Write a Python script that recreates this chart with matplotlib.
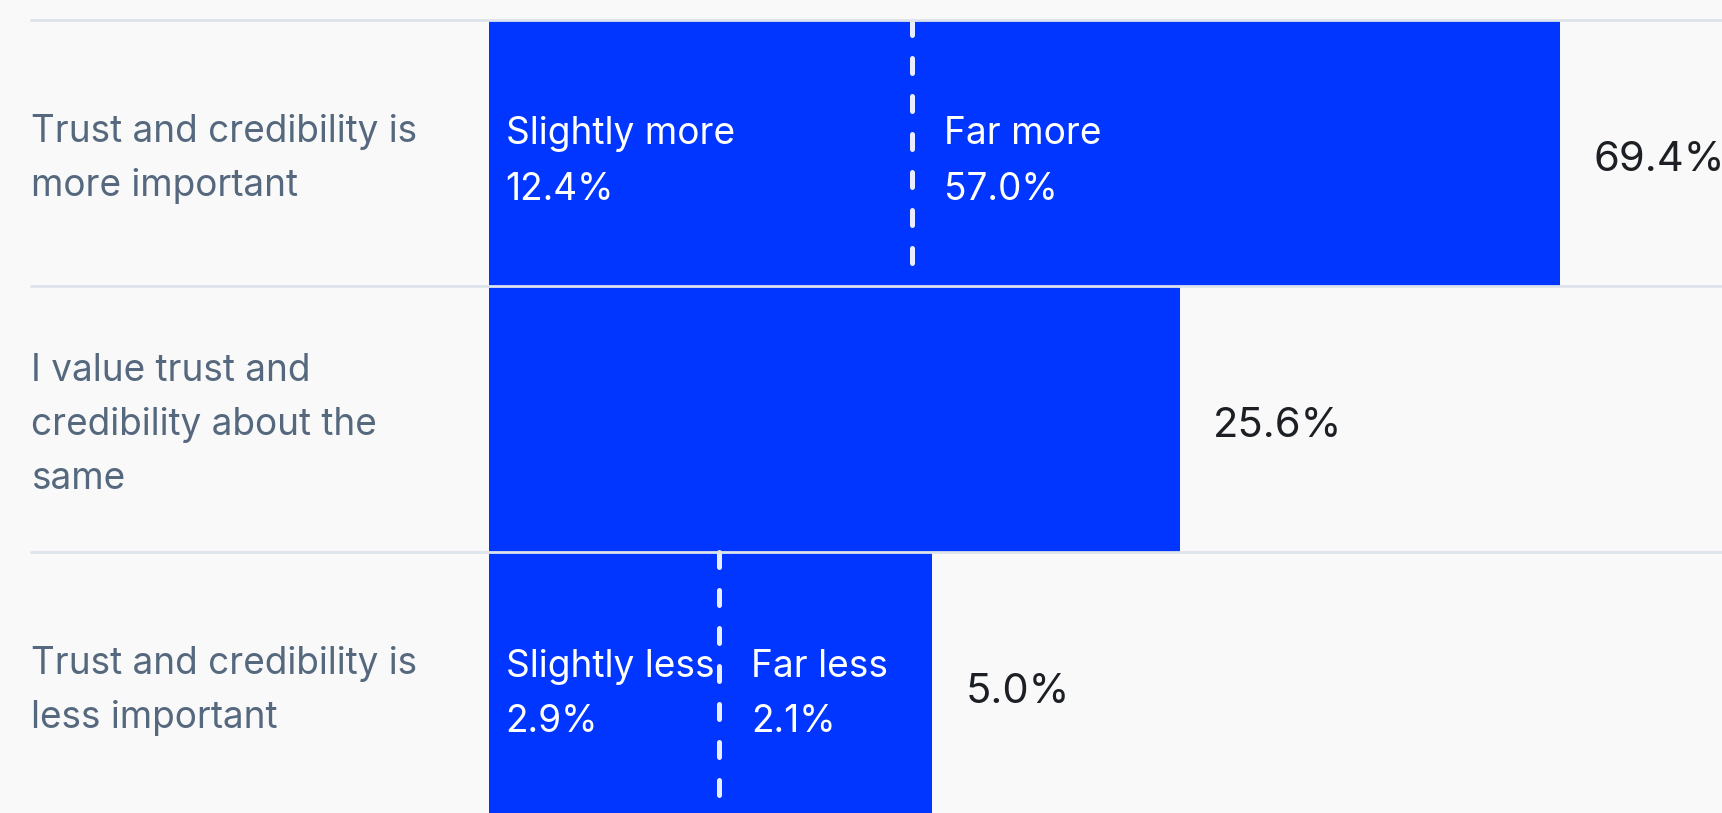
import matplotlib.pyplot as plt

categories = ["Trust and credibility is\nmore important",
              "I value trust and\ncredibility about the\nsame",
              "Trust and credibility is\nless important"]
segment_names = [["Slightly more", "Far more"], [None], ["Slightly less", "Far less"]]
segment_values = [[12.4, 57.0], [25.6], [2.9, 2.1]]
totals = [69.4, 25.6, 5.0]

BLUE = "#0036ff"
BG = "#f9f9f9"
GRID = "#dde3eb"
LABEL_GREY = "#55687e"
DARK = "#1c1f24"

# every segment gets a fixed extra width so its inner label fits,
# and a row never runs past the track end (room for the total label)
SEG_PAD = 8.4
TRACK_MAX = 52.7

plt.rcParams['font.family'] = ['Inter', 'DejaVu Sans']

fig = plt.figure(figsize=(17.22, 8.13), dpi=100, facecolor=BG)
ax = fig.add_axes([0, 0, 1, 1])
ax.set_facecolor(BG)
ax.set_xlim(-24.1, 60.7)
ax.set_ylim(2.481, -0.575)
ax.axis('off')

for i, vals in enumerate(segment_values):
    left = 0
    for j, v in enumerate(vals):
        w = v + SEG_PAD
        if left + w > TRACK_MAX:
            w = TRACK_MAX - left
        ax.barh(i, w, left=left, height=1.0, color=BLUE, zorder=2)
        name = segment_names[i][j]
        if name:
            pad = 0.8 if j == 0 else 1.6
            ax.text(left + pad, i + 0.035, f"{name}\n{v:.1f}%", color="white",
                    fontsize=26.7, va='center', ha='left', linespacing=1.7, zorder=4)
        if j > 0:
            ax.plot([left, left], [i - 0.5, i + 0.5], color="#e8eeff", lw=3.6,
                    dashes=(3.0, 4.6), dash_capstyle='round', zorder=3)
        left += w
    ax.text(left + 1.65, i + 0.026, f"{totals[i]:.1f}%", color=DARK,
            fontsize=30, va='center', ha='left', zorder=4)
    ax.text(-22.55, i + 0.024, categories[i], color=LABEL_GREY,
            fontsize=26.6, va='center', ha='left', linespacing=1.64)

ax.hlines([-0.5, 0.5, 1.5], -22.6, 60.7, color=GRID, lw=2, zorder=3)

fig.savefig('out.png', dpi=100, facecolor=BG)
